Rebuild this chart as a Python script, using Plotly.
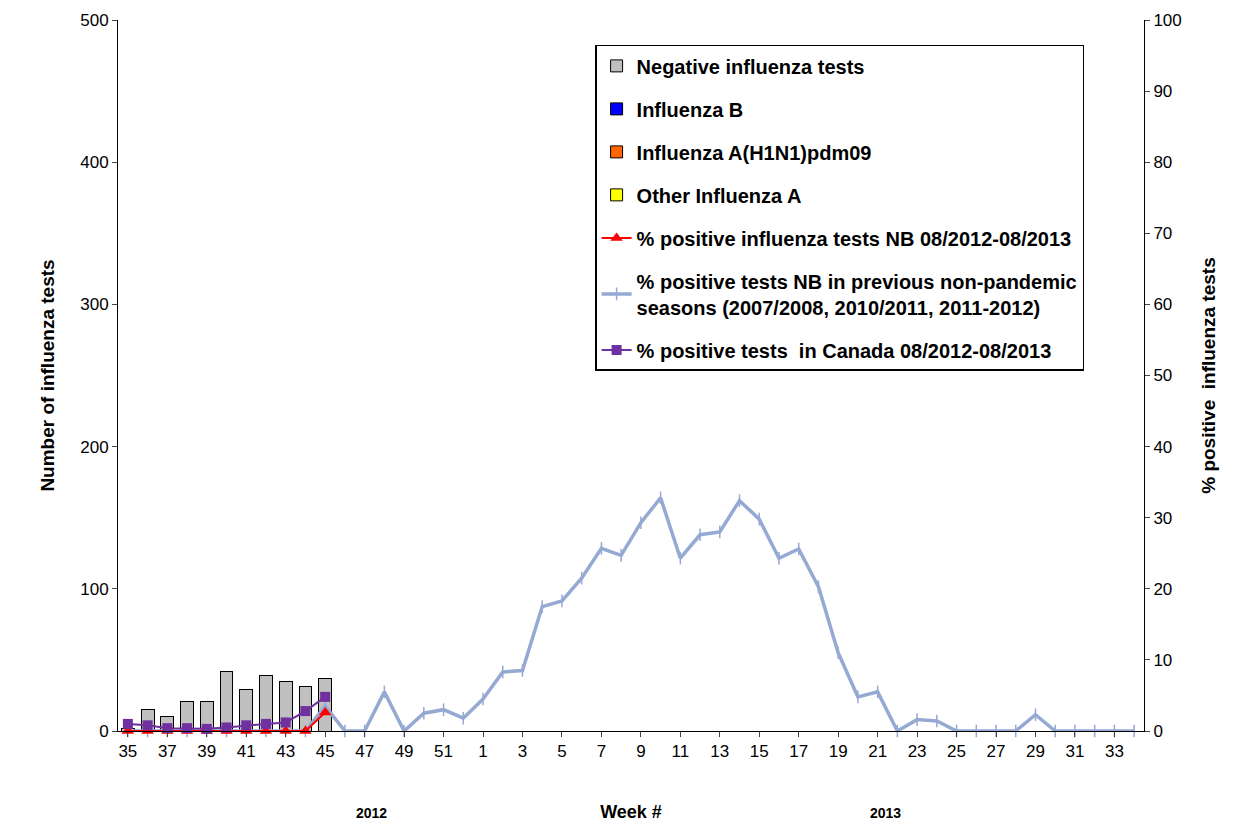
import plotly.graph_objects as go

weeks = list(range(35, 53)) + list(range(1, 35))
negative = [2, 15, 10, 21, 21, 42, 29, 39, 35, 31, 37]
flu_b = [0] * 11
flu_h1n1 = [0] * 11
flu_other_a = [0] * 11
pct_nb = [0, 0, 0, 0, 0, 0, 0, 0, 0, 0, 2.6]
pct_canada = [1.0, 0.8, 0.4, 0.4, 0.3, 0.5, 0.8, 1.0, 1.2, 2.8, 4.8]
pct_prev = [0, 0, 0, 0, 0, 0, 0, 0, 0, 0, 3.5, 0, 0, 5.5, 0, 2.5, 3.0, 1.8,
            4.5, 8.3, 8.5, 17.5, 18.3, 21.5, 25.7, 24.7, 29.3, 32.8, 24.3, 27.6,
            28.0, 32.4, 29.8, 24.3, 25.6, 20.3, 11.0, 4.8, 5.5, 0, 1.6, 1.4,
            0, 0, 0, 0, 2.3, 0, 0, 0, 0, 0]

x_all = list(range(len(weeks)))
x_cur = x_all[:len(negative)]
tick_idx = x_all[::2]
tick_txt = [str(weeks[i]) for i in tick_idx]

fig = go.Figure()
bar_line = dict(color="black", width=1)
fig.add_trace(go.Bar(x=x_cur, y=negative, name="<b>Negative influenza tests</b>",
                     marker=dict(color="#c0c0c0", line=bar_line), legendgroup="a"))
fig.add_trace(go.Bar(x=x_cur, y=flu_b, name="<b>Influenza B</b>",
                     marker=dict(color="#0000ff", line=bar_line), legendgroup="b"))
fig.add_trace(go.Bar(x=x_cur, y=flu_h1n1, name="<b>Influenza A(H1N1)pdm09</b>",
                     marker=dict(color="#ff6600", line=bar_line), legendgroup="c"))
fig.add_trace(go.Bar(x=x_cur, y=flu_other_a, name="<b>Other Influenza A</b>",
                     marker=dict(color="#ffff00", line=bar_line), legendgroup="d"))
fig.add_trace(go.Scatter(x=x_all, y=pct_prev, yaxis="y2", mode="lines+markers",
                         name="<b>% positive tests NB in previous non-pandemic<br>seasons (2007/2008, 2010/2011, 2011-2012)</b>",
                         line=dict(color="#95a9d3", width=3.5), cliponaxis=False,
                         marker=dict(symbol="line-ns", size=9, color="#95a9d3",
                                     line=dict(color="#95a9d3", width=1.5)),
                         legendgroup="f", legendrank=1006))
fig.add_trace(go.Scatter(x=x_cur, y=pct_nb, yaxis="y2", mode="lines+markers",
                         name="<b>% positive influenza tests NB 08/2012-08/2013</b>",
                         line=dict(color="#ff0000", width=2), cliponaxis=False,
                         marker=dict(symbol="triangle-up", size=11, color="#ff0000"),
                         legendgroup="e", legendrank=1005))
fig.add_trace(go.Scatter(x=x_cur, y=pct_canada, yaxis="y2", mode="lines+markers",
                         name="<b>% positive tests  in Canada 08/2012-08/2013</b>",
                         line=dict(color="#7030a0", width=2), cliponaxis=False,
                         marker=dict(symbol="square", size=10, color="#7030a0"),
                         legendgroup="g", legendrank=1007))

fig.update_layout(
    width=1247, height=834, barmode="stack", bargap=0.35,
    plot_bgcolor="white", paper_bgcolor="white",
    font=dict(family="Liberation Sans, Arial", size=14, color="black"),
    margin=dict(l=110, r=111, t=12, b=111, autoexpand=False),
    xaxis=dict(range=[-0.5, len(weeks) - 0.5], tickvals=tick_idx, ticktext=tick_txt,
               showline=True, linecolor="black", ticks="outside", ticklen=5,
               showgrid=False, zeroline=False, tickfont=dict(size=17), automargin=False,
               title=dict(text="<b>Week #</b>", font=dict(size=18), standoff=44)),
    yaxis=dict(range=[0, 500], dtick=100, showline=True, linecolor="black",
               ticks="outside", showgrid=False, zeroline=False, tickfont=dict(size=17),
               automargin=False,
               title=dict(text="<b>Number of influenza tests</b>", font=dict(size=19),
                          standoff=20)),
    yaxis2=dict(range=[0, 100], dtick=10, overlaying="y", side="right",
                showline=True, linecolor="black", ticks="outside", showgrid=False,
                zeroline=False, tickfont=dict(size=17), automargin=False,
                title=dict(text="<b>% positive  influenza tests</b>", font=dict(size=19),
                           standoff=20)),
    legend=dict(x=0.465, y=0.965, xanchor="left", yanchor="top",
                bordercolor="black", borderwidth=1.5, bgcolor="white",
                tracegroupgap=14, font=dict(size=20), traceorder="grouped"),
    annotations=[
        dict(text="<b>2012</b>", x=0.23, y=-0.13, xref="paper", yref="paper",
             showarrow=False, font=dict(size=14)),
        dict(text="<b>2013</b>", x=0.765, y=-0.13, xref="paper", yref="paper",
             showarrow=False, font=dict(size=14)),
    ],
)

fig.write_html("out.html")
